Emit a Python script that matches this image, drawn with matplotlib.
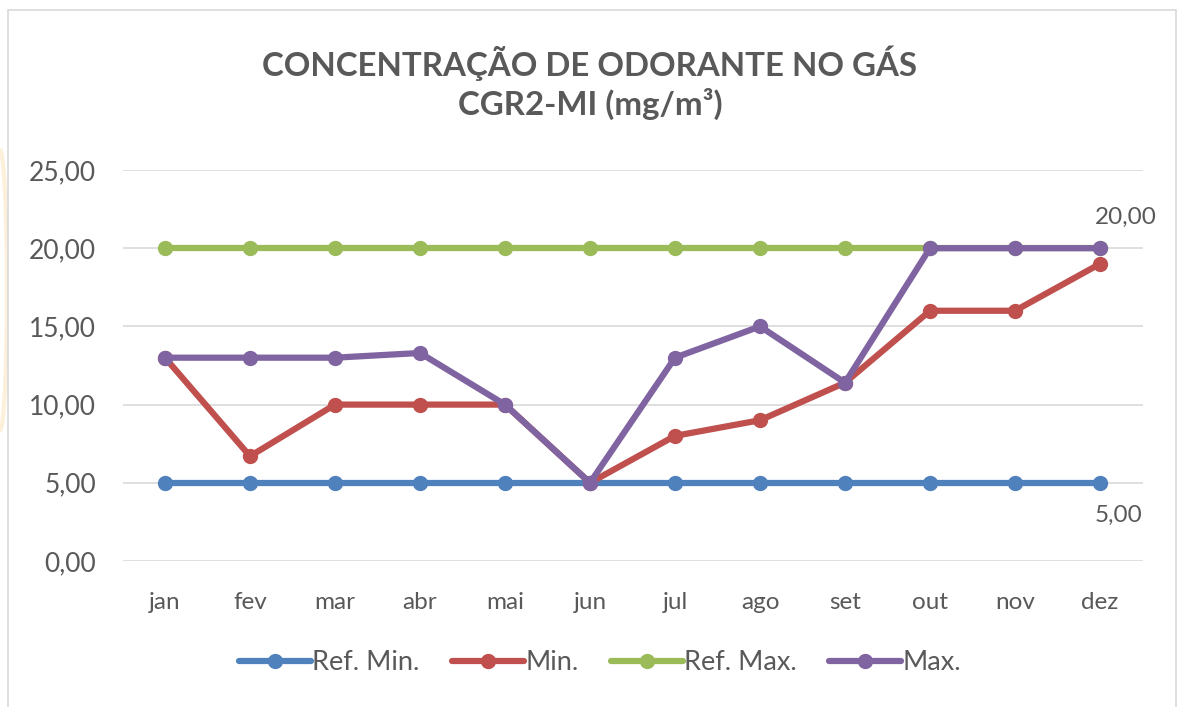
import matplotlib
matplotlib.use("Agg")
import matplotlib.pyplot as plt
from matplotlib.patches import Rectangle, Ellipse

months = ["jan", "fev", "mar", "abr", "mai", "jun", "jul", "ago", "set", "out", "nov", "dez"]
ref_min = [5, 5, 5, 5, 5, 5, 5, 5, 5, 5, 5, 5]
vmin = [13, 6.7, 10, 10, 10, 5, 8, 9, 11.4, 16, 16, 19]
ref_max = [20, 20, 20, 20, 20, 20, 20, 20, 20, 20, 20, 20]
vmax = [13, 13, 13, 13.3, 10, 5, 13, 15, 11.4, 20, 20, 20]
yticks = [0, 5, 10, 15, 20, 25]
title = "CONCENTRAÇÃO DE ODORANTE NO GÁS\nCGR2-MI (mg/m³)"

plt.rcParams['font.family'] = ['Lato', 'DejaVu Sans']
txt = "#595959"

W, H = 1178, 707
fig = plt.figure(figsize=(W / 100, H / 100), dpi=100)

# faint background artifact at left edge
fig.patches.append(Ellipse((0.0, 1 - 290 / H), 14 / W, 280 / H, transform=fig.transFigure,
                           facecolor="none", edgecolor="#FDF0DA", lw=3, zorder=-2))
# chart border
fig.patches.append(Rectangle((8 / W, -0.02), (1176 - 8) / W, 1.02 - 10 / H,
                             transform=fig.transFigure, facecolor="white",
                             edgecolor="#D9D9D9", lw=1.2, zorder=-1))

ax = fig.add_axes([122.5 / W, (H - 561) / H, 1020 / W, 391 / H])
ax.set_facecolor("none")
x = list(range(len(months)))

series = [("Ref. Min.", ref_min, "#4F81BD"),
          ("Min.", vmin, "#C0504D"),
          ("Ref. Max.", ref_max, "#9BBB59"),
          ("Max.", vmax, "#8064A2")]
for i, (name, vals, col) in enumerate(series):
    ax.plot(x, vals, color=col, lw=4.5, marker="o", ms=10, label=name,
            zorder=3 + i, solid_capstyle="round", solid_joinstyle="round")

ax.set_xlim(-0.5, len(months) - 0.5)
ax.set_ylim(0, 25)
ax.set_yticks(yticks)
ax.set_yticklabels([f"{v:.2f}".replace(".", ",") for v in yticks])
ax.set_xticks(x)
ax.set_xticklabels(months)
ax.tick_params(axis="x", length=0, labelsize=17.5, colors=txt, pad=22)
ax.tick_params(axis="y", length=0, labelsize=19, colors=txt, pad=19)
ax.grid(axis="y", color="#D9D9D9", lw=1.2, zorder=0)
for s in ax.spines.values():
    s.set_visible(False)

# data labels at last point
ax.annotate(f"{vmax[-1]:.2f}".replace(".", ","), (x[-1], vmax[-1]), xytext=(-4, 15),
            textcoords="offset points", ha="left", va="bottom", fontsize=17.5, color=txt)
ax.annotate(f"{ref_min[-1]:.2f}".replace(".", ","), (x[-1], ref_min[-1]), xytext=(-4, -16),
            textcoords="offset points", ha="left", va="top", fontsize=17.5, color=txt)

fig.text(590 / W, 1 - 83 / H, title, ha="center", va="center",
         fontsize=23.8, fontweight="bold", color=txt, linespacing=1.25)

leg = fig.legend(loc="center", bbox_to_anchor=(600 / W, 1 - 663 / H), ncol=4,
                 frameon=False, fontsize=19.5, handlelength=2.65, handletextpad=0.05,
                 columnspacing=1.2, labelcolor=txt)

fig.savefig("out.png", dpi=100)
